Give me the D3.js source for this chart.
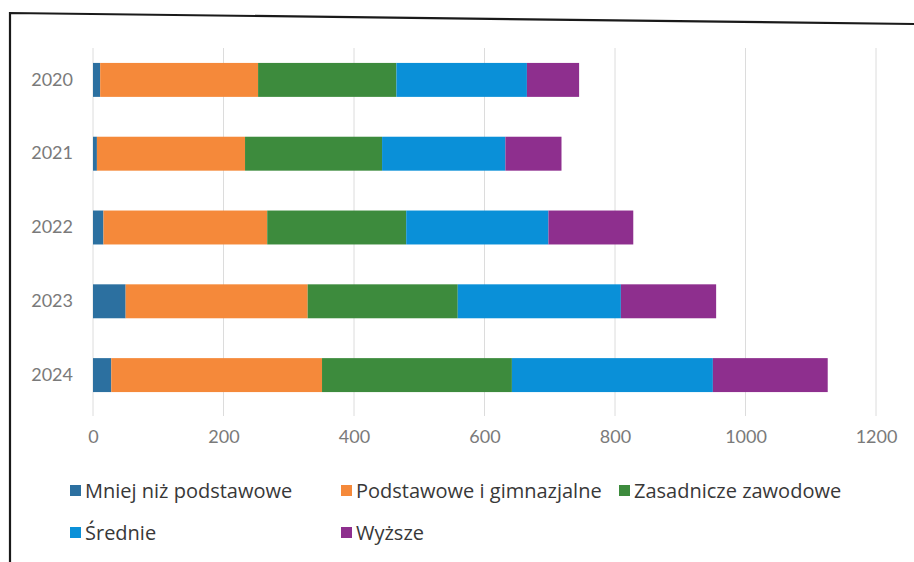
<!DOCTYPE html>
<html><head><meta charset="utf-8">
<script src="https://cdn.jsdelivr.net/npm/d3@7"></script>
<style>body{margin:0;background:#fff;}svg{display:block;}</style>
</head><body>
<svg id="c" width="914" height="562"></svg>
<script>
const years = ["2020","2021","2022","2023","2024"];
const seriesNames = ["Mniej niż podstawowe","Podstawowe i gimnazjalne","Zasadnicze zawodowe","Średnie","Wyższe"];
const mniej = [11, 6, 16, 50, 28];
const podstawowe = [242, 227, 251, 279, 323];
const zasadnicze = [212, 210, 213, 230, 291];
const srednie = [200, 189, 218, 250, 308];
const wyzsze = [80, 86, 130, 146, 176];
const xTicks = [0,200,400,600,800,1000,1200];
const colors = ["#2c70a0","#f5893a","#3d8b3d","#0a90d8","#8e2f8e"];

const seriesVals = [mniej, podstawowe, zasadnicze, srednie, wyzsze];
const rows = years.map((y,i)=>{const r={year:y}; seriesNames.forEach((s,j)=>r[s]=seriesVals[j][i]); return r;});
const stacked = d3.stack().keys(seriesNames)(rows);

const svg = d3.select("#c");
const font = "Lato, 'Open Sans', sans-serif";
const legFont = "'Open Sans', Lato, sans-serif";

// frame (scanned page border)
svg.append("path").attr("d","M10,562 L10,13 L914,24").attr("fill","none").attr("stroke","#1a1a1a").attr("stroke-width",2.2);

const x = d3.scaleLinear().domain([0,1200]).range([93,876]);
const y = d3.scaleBand().domain(years).range([43,412]).paddingInner(0.54).paddingOuter(0.27);

// gridlines
svg.append("g").selectAll("line").data(xTicks).join("line")
  .attr("x1",d=>x(d)).attr("x2",d=>x(d)).attr("y1",48).attr("y2",416)
  .attr("stroke","#dcdcdc").attr("stroke-width",1);

// bars
svg.append("g").selectAll("g").data(stacked).join("g")
  .attr("fill",(d,i)=>colors[i])
  .selectAll("rect").data(d=>d).join("rect")
  .attr("x",d=>x(d[0])).attr("width",d=>x(d[1])-x(d[0]))
  .attr("y",d=>y(d.data.year)).attr("height",y.bandwidth());

// x axis labels
const xa = svg.append("g").attr("transform","translate(0,437)")
  .call(d3.axisBottom(x).tickValues(xTicks).tickFormat(d3.format("d")).tickSize(0).tickPadding(0));
xa.select(".domain").remove();
xa.selectAll("text").attr("font-family",font).attr("font-size",18).attr("fill","#7a7a7a").attr("dy","0.35em");

// y axis labels
const ya = svg.append("g").attr("transform","translate(73,0)").call(d3.axisLeft(y).tickSize(0).tickPadding(0));
ya.select(".domain").remove();
ya.selectAll("text").attr("font-family",font).attr("font-size",18).attr("fill","#7a7a7a");

// legend
const legPos = [[70,491],[341,491],[619,491],[70,533],[341,533]];
const lg = svg.append("g").selectAll("g").data(seriesNames).join("g")
  .attr("transform",(d,i)=>`translate(${legPos[i][0]},${legPos[i][1]})`);
lg.append("rect").attr("x",0).attr("y",-6).attr("width",11).attr("height",11).attr("fill",(d,i)=>colors[i]);
lg.append("text").attr("x",15).attr("y",0).attr("dy","0.35em").text(d=>d)
  .attr("font-family",legFont).attr("font-size",20).attr("fill","#383838");
</script>
</body></html>
